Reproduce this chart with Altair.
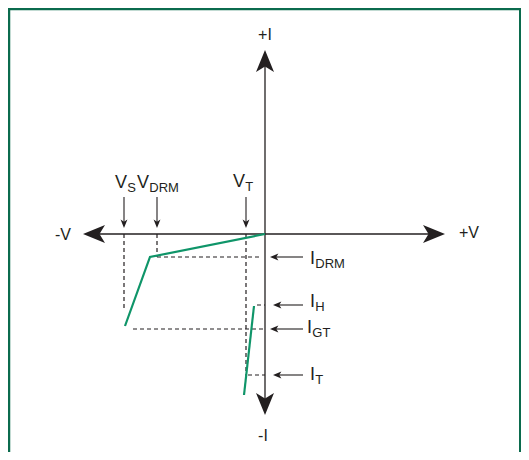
import altair as alt
import pandas as pd

# Units: V along the horizontal axis, I along the vertical axis; origin at the crossing.
# Axis end points (arrow tips)
axis_v_ends = [-182, 180]
axis_i_ends = [184, -181]

# Reverse (blocking / breakover) characteristic - green polyline
rev_v = [0, -115, -140]
rev_i = [0, -23, -92]
# Forward (on-state) characteristic
fwd_v = [-11, -21]
fwd_i = [-72, -161]

# Voltage markers (down arrows + labels)
v_main = ["V", "V", "V"]
v_sub = ["S", "DRM", "T"]
v_pos = [-141, -108, -19]
v_label_x = [-150, -128, -32]
v_label_y = [46, 46, 47]

# Current markers (left arrows + labels)
i_main = ["I", "I", "I", "I"]
i_sub = ["DRM", "H", "GT", "T"]
i_pos = [-23, -71, -95, -141]
i_tip = [5, 8, 5, 8]
i_label_x = [45, 45, 42, 45]
i_label_y = [-30, -73, -99, -146]

# Dashed construction lines (v, i, v2, i2)
dash_v = [-141, -108, -108, -19, -132, -8, -17]
dash_i = [0, 0, -23, 0, -95, -71, -141]
dash_v2 = [-141, -108, -3, -19, 0, 0, 0]
dash_i2 = [-76, -23, -23, -142, -95, -71, -141]

# Axis end captions
end_text = ["+I", "-I", "-V", "+V"]
end_v = [0, -2, -202, 204]
end_i = [199, -202, -1, 1]

INK = "#231f20"
GREEN = "#0f9569"
FRAME = "#0b6b4d"
FONT = "Liberation Sans"

W, H = 513, 444
xs = alt.Scale(domain=[-257, 256], nice=False, zero=False)
ys = alt.Scale(domain=[-218, 226], nice=False, zero=False)

def X(f="v"):
    return alt.X(f"{f}:Q", scale=xs, axis=None)

def Y(f="i"):
    return alt.Y(f"{f}:Q", scale=ys, axis=None)

ARROW = "M0,0L2.2,-0.9L1.65,0L2.2,0.9Z"

# main axes
axes_df = pd.DataFrame({
    "v": [axis_v_ends[0] + 6, 0],
    "i": [0, axis_i_ends[0] - 6],
    "v2": [axis_v_ends[1] - 6, 0],
    "i2": [0, axis_i_ends[1] + 6],
})
axes = alt.Chart(axes_df).mark_rule(color=INK, strokeWidth=1.3).encode(
    x=X(), y=Y(), x2="v2:Q", y2="i2:Q")

big_heads = pd.DataFrame({
    "v": [axis_v_ends[0], axis_v_ends[1], 0, 0],
    "i": [0, 0, axis_i_ends[0], axis_i_ends[1]],
    "ang": [0, 180, 90, 270],
})
big = alt.Chart(big_heads).mark_point(
    shape=ARROW, filled=True, color=INK, opacity=1, size=400, strokeWidth=0
).encode(x=X(), y=Y(), angle=alt.Angle("ang:Q", scale=None))

# dashed lines
dash_df = pd.DataFrame({"v": dash_v, "i": dash_i, "v2": dash_v2, "i2": dash_i2})
dashes = alt.Chart(dash_df).mark_rule(color=INK, strokeWidth=1.2, strokeDash=[4, 3]).encode(
    x=X(), y=Y(), x2="v2:Q", y2="i2:Q")

# green characteristics
curve_df = pd.DataFrame({
    "v": rev_v + fwd_v,
    "i": rev_i + fwd_i,
    "seg": ["rev"] * len(rev_v) + ["fwd"] * len(fwd_v),
    "k": list(range(len(rev_v))) + list(range(len(fwd_v))),
})
curves = alt.Chart(curve_df).mark_line(color=GREEN, strokeWidth=2.2).encode(
    x=X(), y=Y(), detail="seg:N", order="k:Q")

# small arrows: voltage (down) and current (left)
shaft_df = pd.DataFrame({
    "v": v_pos + [38] * len(i_pos),
    "i": [37] * len(v_pos) + i_pos,
    "v2": v_pos + [t + 4 for t in i_tip],
    "i2": [10] * len(v_pos) + i_pos,
})
shafts = alt.Chart(shaft_df).mark_rule(color=INK, strokeWidth=1.1).encode(
    x=X(), y=Y(), x2="v2:Q", y2="i2:Q")

small_df = pd.DataFrame({
    "v": v_pos + i_tip,
    "i": [6] * len(v_pos) + i_pos,
    "ang": [270] * len(v_pos) + [0] * len(i_pos),
})
small = alt.Chart(small_df).mark_point(
    shape=ARROW, filled=True, color=INK, opacity=1, size=58, strokeWidth=0
).encode(x=X(), y=Y(), angle=alt.Angle("ang:Q", scale=None))

# labels with subscripts
MAIN = 18
SUB = 13
adv = {"V": 0.667, "I": 0.278}
lab_df = pd.DataFrame({
    "t": v_main + i_main,
    "v": v_label_x + i_label_x,
    "i": v_label_y + i_label_y,
})
sub_df = pd.DataFrame({
    "t": v_sub + i_sub,
    "v": [x + adv[m] * MAIN + 0.3 for x, m in zip(v_label_x + i_label_x, v_main + i_main)],
    "i": [y - 4 for y in v_label_y + i_label_y],
})
mains = alt.Chart(lab_df).mark_text(
    align="left", baseline="alphabetic", font=FONT, fontSize=MAIN, color=INK
).encode(x=X(), y=Y(), text="t:N")
subs = alt.Chart(sub_df).mark_text(
    align="left", baseline="alphabetic", font=FONT, fontSize=SUB, color=INK
).encode(x=X(), y=Y(), text="t:N")

end_df = pd.DataFrame({"t": end_text, "v": end_v, "i": end_i})
ends = alt.Chart(end_df).mark_text(
    align="center", baseline="middle", font=FONT, fontSize=16, color=INK
).encode(x=X(), y=Y(), text="t:N")

# green frame (decoration)
frame_df = pd.DataFrame({"k": [0]})
frame_top = alt.Chart(frame_df).mark_rule(color=FRAME, strokeWidth=2.5).encode(
    x=alt.value(0), x2=alt.value(W), y=alt.value(1))
frame_left = alt.Chart(frame_df).mark_rule(color=FRAME, strokeWidth=2.5).encode(
    x=alt.value(1), y=alt.value(0), y2=alt.value(H))
frame_right = alt.Chart(frame_df).mark_rule(color=FRAME, strokeWidth=2).encode(
    x=alt.value(W - 1), y=alt.value(0), y2=alt.value(H))

chart = alt.layer(
    frame_top, frame_left, frame_right,
    dashes, axes, big, curves, shafts, small, mains, subs, ends
).properties(
    width=W, height=H, padding=0, autosize=alt.AutoSizeParams(type="none")
).configure_view(strokeWidth=0)

chart.save("out.html", embed_options={"renderer": "svg", "actions": False})
